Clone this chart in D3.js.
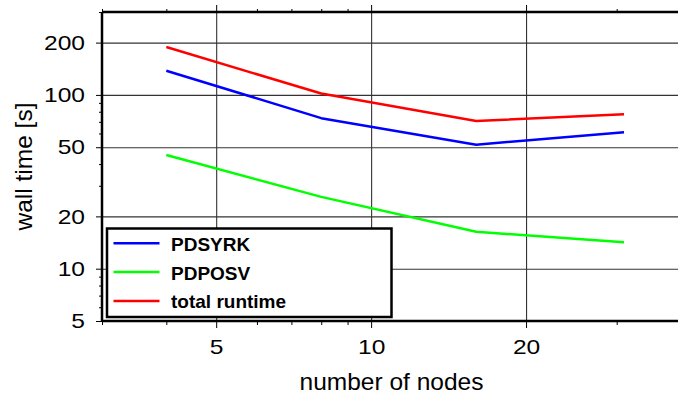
<!DOCTYPE html>
<html>
<head>
<meta charset="utf-8">
<script src="https://cdn.jsdelivr.net/npm/d3@7"></script>
<style>
  body { margin: 0; background: #fff; }
  svg { display: block; font-family: "Liberation Sans", Arial, sans-serif; }
</style>
</head>
<body>
<svg class="chart"></svg>
<script>
// values
const nodes = [4, 8, 16, 31]
const pdsyrk = [137.8, 73.5, 51.7, 61]
const pdposv = [45.1, 25.9, 16.3, 14.2]
const totalRuntime = [188.7, 101.8, 70.8, 77.4]

const seriesNames = ['PDSYRK', 'PDPOSV', 'total runtime']
const seriesColors = ['#0000ff', '#00ff00', '#ff0000']

const xMajor = [5, 10, 20]
const xMinor = [3, 4, 6, 7, 8, 9, 30, 40]
const yMajor = [5, 10, 20, 50, 100, 200]
const yMinor = [6, 7, 8, 9, 30, 40, 60, 70, 80, 90, 300]

const svgWidth = 678
const svgHeight = 395
const frame = {left: 102, right: 681, top: 12, bottom: 321}

const svg = d3.select('.chart')
    .attr('width', svgWidth)
    .attr('height', svgHeight)

const x = d3.scaleLog()
    .domain([3, 40])
    .range([frame.left, frame.right])

const y = d3.scaleLog()
    .domain([5, 300])
    .range([frame.bottom, frame.top])

// stretch tick labels a bit wider, the source font has wide digits
function widen(sel, k) {
    sel.each(function () {
        const len = this.getComputedTextLength()
        d3.select(this)
            .attr('textLength', len * k)
            .attr('lengthAdjust', 'spacingAndGlyphs')
    })
}

function plain(g) {
    g.select('.domain').remove()
    g.selectAll('line').attr('stroke', '#000').attr('stroke-width', 1)
}

// grid
svg.append('g')
    .attr('transform', `translate(${frame.left},0)`)
    .call(d3.axisLeft(y).tickValues(yMajor).tickSize(-(frame.right - frame.left)).tickFormat(''))
    .call(g => g.select('.domain').remove())
    .selectAll('line').attr('stroke', '#333').attr('stroke-width', 1.1)

svg.append('g')
    .attr('transform', `translate(0,${frame.bottom})`)
    .call(d3.axisBottom(x).tickValues(xMajor).tickSize(-(frame.bottom - frame.top)).tickFormat(''))
    .call(g => g.select('.domain').remove())
    .selectAll('line').attr('stroke', '#333').attr('stroke-width', 1.1)

// left axis
const yAxis = svg.append('g')
    .attr('transform', `translate(${frame.left},0)`)
    .call(d3.axisLeft(y).tickValues(yMajor).tickSize(6).tickPadding(11).tickFormat(d3.format('d')))
    .call(plain)
yAxis.selectAll('text')
    .attr('fill', '#000')
    .style('font-size', '21px')
    .call(widen, 1.17)

svg.append('g')
    .attr('transform', `translate(${frame.left},0)`)
    .call(d3.axisLeft(y).tickValues(yMinor).tickSize(3).tickFormat(''))
    .call(plain)

// bottom axis
const xAxis = svg.append('g')
    .attr('transform', `translate(0,${frame.bottom})`)
    .call(d3.axisBottom(x).tickValues(xMajor).tickSize(7).tickPadding(11).tickFormat(d3.format('d')))
    .call(plain)
xAxis.selectAll('text')
    .attr('fill', '#000')
    .style('font-size', '21px')
    .call(widen, 1.17)

svg.append('g')
    .attr('transform', `translate(0,${frame.bottom})`)
    .call(d3.axisBottom(x).tickValues(xMinor).tickSize(4).tickFormat(''))
    .call(plain)

// top ticks
svg.append('g')
    .attr('transform', `translate(0,${frame.top})`)
    .call(d3.axisTop(x).tickValues(xMajor).tickSize(7).tickFormat(''))
    .call(plain)
svg.append('g')
    .attr('transform', `translate(0,${frame.top})`)
    .call(d3.axisTop(x).tickValues(xMinor).tickSize(3).tickFormat(''))
    .call(plain)

// frame
const frameG = svg.append('g')
    .attr('stroke', '#000')
    .attr('stroke-width', 2.5)
frameG.append('line')
    .attr('x1', frame.left).attr('x2', frame.left)
    .attr('y1', frame.top).attr('y2', frame.bottom)
frameG.append('line')
    .attr('x1', frame.left).attr('x2', frame.right)
    .attr('y1', frame.top).attr('y2', frame.top)
frameG.append('line')
    .attr('x1', frame.left).attr('x2', frame.right)
    .attr('y1', frame.bottom).attr('y2', frame.bottom)

// lines
const series = [pdsyrk, pdposv, totalRuntime]
const line = d3.line()
    .x((d, i) => x(nodes[i]))
    .y(d => y(d))

series.forEach((vals, i) => {
    svg.append('path')
        .attr('d', line(vals))
        .attr('fill', 'none')
        .attr('stroke', seriesColors[i])
        .attr('stroke-width', 2.5)
        .attr('stroke-linejoin', 'round')
})

// axis titles
svg.append('text')
    .attr('x', (frame.left + frame.right) / 2)
    .attr('y', 390)
    .attr('text-anchor', 'middle')
    .style('font-size', '24.5px')
    .text('number of nodes')

svg.append('text')
    .attr('text-anchor', 'middle')
    .style('font-size', '24.5px')
    .attr('transform', `translate(31.5 ${(frame.top + frame.bottom) / 2}) rotate(-90)`)
    .text('wall time [s]')

// legend
const legend = svg.append('g').attr('class', 'legend')
legend.append('rect')
    .attr('x', 107)
    .attr('y', 228.5)
    .attr('width', 284.5)
    .attr('height', 88.5)
    .attr('fill', '#fff')
    .attr('stroke', '#000')
    .attr('stroke-width', 2.5)

seriesNames.forEach((name, i) => {
    const cy = 243.3 + i * 28.8
    legend.append('line')
        .attr('x1', 113.5).attr('x2', 159.5)
        .attr('y1', cy).attr('y2', cy)
        .attr('stroke', seriesColors[i])
        .attr('stroke-width', 2.5)
    legend.append('text')
        .attr('x', 171)
        .attr('y', cy + 7.5)
        .style('font-size', '19px')
        .style('font-weight', 'bold')
        .text(name)
})
</script>
</body>
</html>
